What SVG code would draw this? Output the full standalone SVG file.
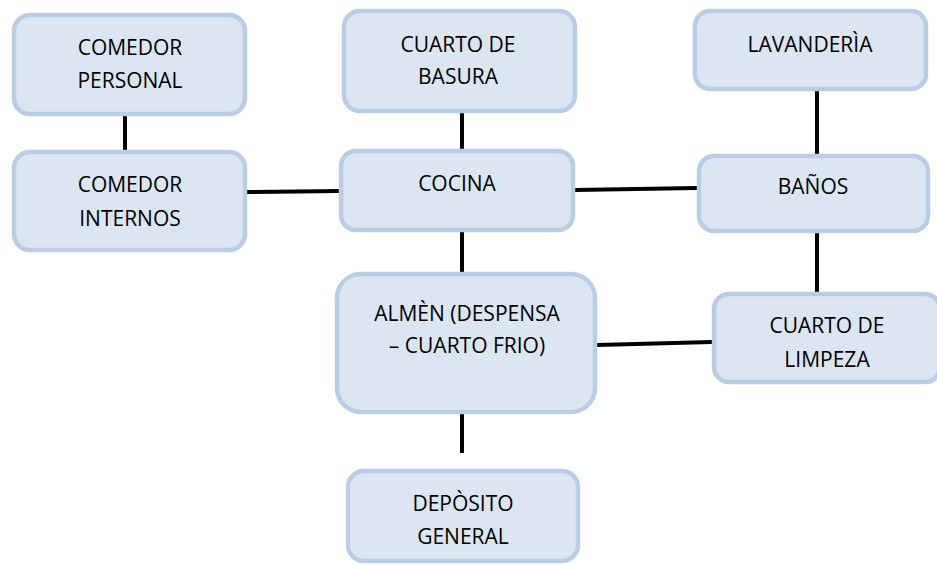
<svg xmlns="http://www.w3.org/2000/svg" width="937" height="565" viewBox="0 0 937 565">
<style>
.box{fill:#dce6f2;stroke:#b9cde5;stroke-width:4.5}
.lbl{font-family:"Open Sans","Liberation Sans",sans-serif;font-size:21px;fill:#000;text-anchor:middle}
.con line{stroke:#000;stroke-width:4;stroke-linecap:butt}
</style>
<rect width="937" height="565" fill="#fff"/>
<g class="con" id="connectors">
<line x1="125" y1="116" x2="125" y2="150"/>
<line x1="247" y1="192" x2="340" y2="191"/>
<line x1="462" y1="113" x2="462" y2="150"/>
<line x1="575" y1="190" x2="697" y2="188"/>
<line x1="817" y1="91" x2="817" y2="154"/>
<line x1="462" y1="232" x2="462" y2="272"/>
<line x1="817" y1="233" x2="817" y2="292"/>
<line x1="597" y1="345" x2="712" y2="342"/>
<line x1="462" y1="414" x2="462" y2="453"/>
</g>
<g id="comedor-personal"><rect class="box" x="14" y="15" width="231" height="99" rx="16"/><text class="lbl" x="130" y="55">COMEDOR</text><text class="lbl" x="130" y="88">PERSONAL</text></g>
<g id="comedor-internos"><rect class="box" x="14" y="152" width="231" height="98" rx="16"/><text class="lbl" x="130" y="192">COMEDOR</text><text class="lbl" x="130" y="226">INTERNOS</text></g>
<g id="cuarto-basura"><rect class="box" x="344" y="11" width="231" height="100" rx="16"/><text class="lbl" x="458" y="52">CUARTO DE</text><text class="lbl" x="458" y="84">BASURA</text></g>
<g id="cocina"><rect class="box" x="341" y="151" width="232" height="79" rx="15"/><text class="lbl" x="457" y="191">COCINA</text></g>
<g id="lavanderia"><rect class="box" x="695" y="11" width="231" height="78" rx="15"/><text class="lbl" x="810" y="52">LAVANDERÌA</text></g>
<g id="banos"><rect class="box" x="699" y="156" width="229" height="75" rx="15"/><text class="lbl" x="813" y="194">BAÑOS</text></g>
<g id="cuarto-limpieza"><rect class="box" x="714" y="294" width="226" height="88" rx="15"/><text class="lbl" x="827" y="333">CUARTO DE</text><text class="lbl" x="827" y="367">LIMPEZA</text></g>
<g id="almacen"><rect class="box" x="337" y="274" width="258" height="138" rx="24"/><text class="lbl" x="467" y="321">ALMÈN (DESPENSA</text><text class="lbl" x="467" y="353">– CUARTO FRIO)</text></g>
<g id="deposito"><rect class="box" x="348" y="471" width="230" height="90" rx="16"/><text class="lbl" x="463" y="511">DEPÒSITO</text><text class="lbl" x="463" y="544">GENERAL</text></g>
</svg>
